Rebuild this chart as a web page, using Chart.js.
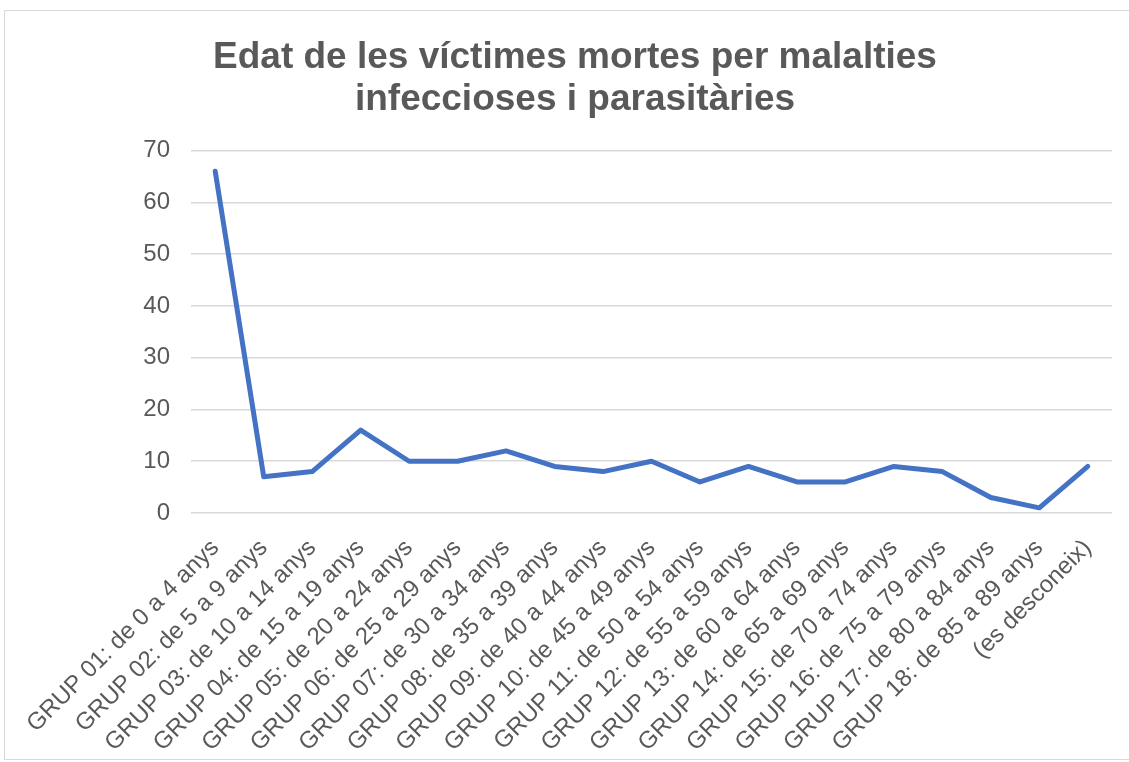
<!DOCTYPE html>
<html>
<head>
<meta charset="utf-8">
<script src="https://cdn.jsdelivr.net/npm/chart.js@4"></script>
<style>
    html, body { margin: 0; padding: 0; background: #fff; overflow: hidden; }
    #frame {
        position: absolute; left: 4px; top: 10px;
        width: 1140px; height: 750px;
        border: 1px solid #d9d9d9; box-sizing: border-box;
    }
    #wrap { position: absolute; left: 0; top: 0; width: 1125px; height: 748px; }
</style>
</head>
<body>
<div id="frame"><div id="wrap"><canvas id="chart"></canvas></div></div>
<script>
//? DATA
const titleLines = ['Edat de les víctimes mortes per malalties', 'infeccioses i parasitàries'];

const ageGroups = [
    'GRUP 01: de 0 a 4 anys',
    'GRUP 02: de 5 a 9 anys',
    'GRUP 03: de 10 a 14 anys',
    'GRUP 04: de 15 a 19 anys',
    'GRUP 05: de 20 a 24 anys',
    'GRUP 06: de 25 a 29 anys',
    'GRUP 07: de 30 a 34 anys',
    'GRUP 08: de 35 a 39 anys',
    'GRUP 09: de 40 a 44 anys',
    'GRUP 10: de 45 a 49 anys',
    'GRUP 11: de 50 a 54 anys',
    'GRUP 12: de 55 a 59 anys',
    'GRUP 13: de 60 a 64 anys',
    'GRUP 14: de 65 a 69 anys',
    'GRUP 15: de 70 a 74 anys',
    'GRUP 16: de 75 a 79 anys',
    'GRUP 17: de 80 a 84 anys',
    'GRUP 18: de 85 a 89 anys',
    '(es desconeix)'
];

const deaths = [66, 7, 8, 16, 10, 10, 12, 9, 8, 10, 6, 9, 6, 6, 9, 8, 3, 1, 9];

const yMin = 0;
const yMax = 70;
const yStep = 10;

//? STYLE
const textGray = '#595959';
const gridGray = '#d9d9d9';
const lineBlue = '#4472C4';
const fontFamily = "'Liberation Sans', Arial, sans-serif";

new Chart(document.getElementById('chart'), {
    type: 'line',
    data: {
        labels: ageGroups,
        datasets: [{
            data: deaths,
            borderColor: lineBlue,
            backgroundColor: lineBlue,
            borderWidth: 5,
            pointRadius: 0,
            pointHoverRadius: 0,
            tension: 0,
            fill: false,
            borderCapStyle: 'round',
            borderJoinStyle: 'round'
        }]
    },
    options: {
        responsive: true,
        maintainAspectRatio: false,
        animation: false,
        layout: { padding: { left: 33, right: 18, top: 12, bottom: 5 } },
        plugins: {
            legend: { display: false },
            tooltip: { enabled: false },
            title: {
                display: true,
                text: titleLines,
                color: textGray,
                font: { family: fontFamily, size: 37, weight: 'bold', lineHeight: 1.13 },
                padding: { top: 14, bottom: 30 }
            }
        },
        scales: {
            x: {
                offset: true,
                grid: { display: false, drawTicks: false },
                border: { display: false },
                ticks: {
                    color: textGray,
                    font: { family: fontFamily, size: 24 },
                    maxRotation: 45, minRotation: 45,
                    autoSkip: false,
                    padding: 21
                },
                // labels may run into the left margin, like the original
                afterFit: (scale) => {
                    scale.paddingLeft = 0;
                    scale.paddingRight = 0;
                    scale.height = 241;
                }
            },
            y: {
                min: yMin, max: yMax,
                grid: { color: gridGray, lineWidth: 1.5, drawTicks: false },
                border: { display: false },
                ticks: {
                    stepSize: yStep,
                    color: textGray,
                    font: { family: fontFamily, size: 24 },
                    padding: 21
                },
                afterFit: (scale) => { scale.width = 153; }
            }
        }
    }
});
</script>
</body>
</html>
